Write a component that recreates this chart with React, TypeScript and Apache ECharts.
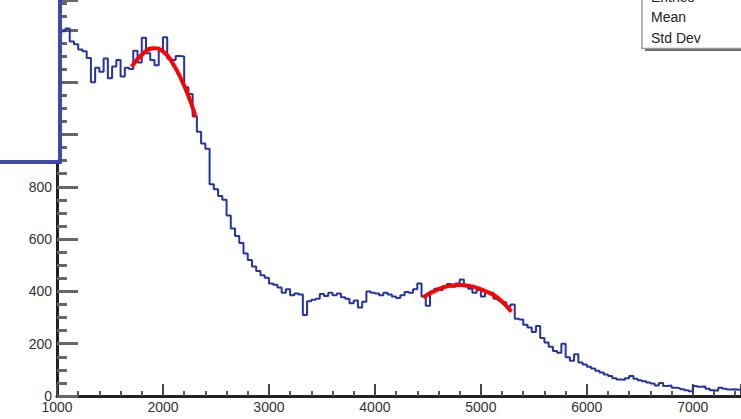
import React, { useEffect, useRef } from "react";
import * as echarts from "echarts";

const binStart = 1000;
const binWidth = 40;
const counts = [
  1380, 1395, 1405, 1355, 1345, 1325, 1318, 1292, 1200, 1255,
  1240, 1290, 1215, 1260, 1285, 1222, 1255, 1250, 1320, 1275,
  1370, 1310, 1285, 1265, 1320, 1372, 1290, 1285, 1300, 1298,
  1180, 1155, 1070, 1010, 965, 945, 810, 790, 765, 750,
  690, 640, 612, 585, 545, 520, 495, 478, 462, 452,
  430, 425, 415, 395, 408, 385, 392, 388, 310, 362,
  368, 372, 390, 382, 395, 385, 392, 378, 372, 355,
  365, 338, 360, 400, 395, 392, 385, 395, 388, 380,
  375, 385, 398, 395, 408, 430, 380, 345, 400, 410,
  405, 420, 428, 418, 430, 445, 420, 410, 395, 405,
  380, 398, 395, 372, 365, 358, 342, 350, 295, 292,
  272, 262, 245, 268, 222, 205, 188, 172, 165, 200,
  148, 135, 160, 128, 120, 112, 105, 97, 90, 82,
  76, 68, 63, 62, 68, 76, 66, 60, 56, 52,
  48, 40, 50, 38, 40, 32, 30, 26, 22, 18,
  38, 35, 36, 28, 22, 20, 32, 28, 25, 26,
  24, 22,
];

const fit1X = [1704, 1814, 1908, 2002, 2082, 2176, 2254, 2308];
const fit1Y = [1259, 1310, 1330, 1317, 1278, 1208, 1132, 1066];
const fit2X = [4454, 4580, 4706, 4800, 4926, 5052, 5162, 5288];
const fit2Y = [377, 405, 421, 424, 418, 399, 374, 322];

const statLabels = ["Entries", "Mean", "Std Dev"];

const FONT = "Liberation Sans, Arial, Helvetica, sans-serif";

export default function App() {
  const ref = useRef<HTMLDivElement>(null);

  useEffect(() => {
    document.body.style.margin = "0";
    if (!ref.current) return;
    const chart = echarts.init(ref.current, null, { renderer: "svg" });

    const histData: number[][] = counts.map((v, i) => [binStart + i * binWidth, v]);
    histData.push([binStart + counts.length * binWidth, counts[counts.length - 1]]);

    const fit1 = fit1X.map((x, i) => [x, fit1Y[i]]);
    const fit2 = fit2X.map((x, i) => [x, fit2Y[i]]);

    const statTexts = statLabels.map((t, i) => ({
      type: "text",
      z: 102,
      style: {
        text: t,
        x: 651,
        y: -3.5 + i * 20.8,
        font: `14px ${FONT}`,
        fill: "#222",
        align: "left",
        verticalAlign: "middle",
      },
    }));

    chart.setOption({
      animation: false,
      backgroundColor: "#fff",
      grid: { left: 57, right: 0, top: 0, bottom: 23, containLabel: false },
      xAxis: {
        type: "value",
        min: 1000,
        max: 7455,
        interval: 1000,
        splitLine: { show: false },
        axisLine: { show: true, onZero: false, lineStyle: { color: "#222", width: 3 } },
        axisTick: { show: true, inside: true, length: 12, lineStyle: { color: "#444", width: 2 } },
        minorTick: { show: true, splitNumber: 5, length: 5, lineStyle: { color: "#555", width: 2 } },
        axisLabel: {
          show: true,
          margin: 4,
          color: "#333",
          fontSize: 14,
          fontFamily: FONT,
          showMaxLabel: false,
          formatter: (v: number) => String(v),
        },
      },
      yAxis: {
        type: "value",
        min: 0,
        max: 1514,
        interval: 200,
        splitLine: { show: false },
        axisLine: { show: true, onZero: false, lineStyle: { color: "#222", width: 3 } },
        axisTick: { show: true, inside: true, length: 21, lineStyle: { color: "#666", width: 3 } },
        minorTick: { show: true, splitNumber: 4, length: 10, lineStyle: { color: "#666", width: 3 } },
        axisLabel: {
          show: true,
          margin: 5,
          color: "#333",
          fontSize: 14,
          fontFamily: FONT,
          showMaxLabel: false,
          formatter: (v: number) => String(v),
        },
      },
      series: [
        {
          type: "line",
          data: histData,
          step: "end",
          showSymbol: false,
          symbol: "none",
          lineStyle: { color: "#2434a0", width: 2 },
          z: 3,
        },
        {
          type: "line",
          data: fit1,
          smooth: true,
          showSymbol: false,
          symbol: "none",
          lineStyle: { color: "#ff0000", width: 4 },
          z: 4,
        },
        {
          type: "line",
          data: fit2,
          smooth: true,
          showSymbol: false,
          symbol: "none",
          lineStyle: { color: "#ff0000", width: 4 },
          z: 4,
        },
      ],
      graphic: [
        {
          type: "rect",
          z: 100,
          shape: { x: -10, y: -10, width: 70, height: 172 },
          style: { fill: "#fff", stroke: "#3f47b0", lineWidth: 4 },
        },
        {
          type: "rect",
          z: 100,
          shape: { x: 645, y: -10, width: 120, height: 61 },
          style: { fill: "#6a6a6a" },
        },
        {
          type: "rect",
          z: 101,
          shape: { x: 642, y: -10, width: 120, height: 58.5 },
          style: { fill: "#fff", stroke: "#9a9a9a", lineWidth: 1.5 },
        },
        ...statTexts,
      ],
    });

    return () => {
      chart.dispose();
    };
  }, []);

  return (
    <div
      ref={ref}
      style={{ position: "absolute", left: 0, top: 0, width: 741, height: 419 }}
    />
  );
}
